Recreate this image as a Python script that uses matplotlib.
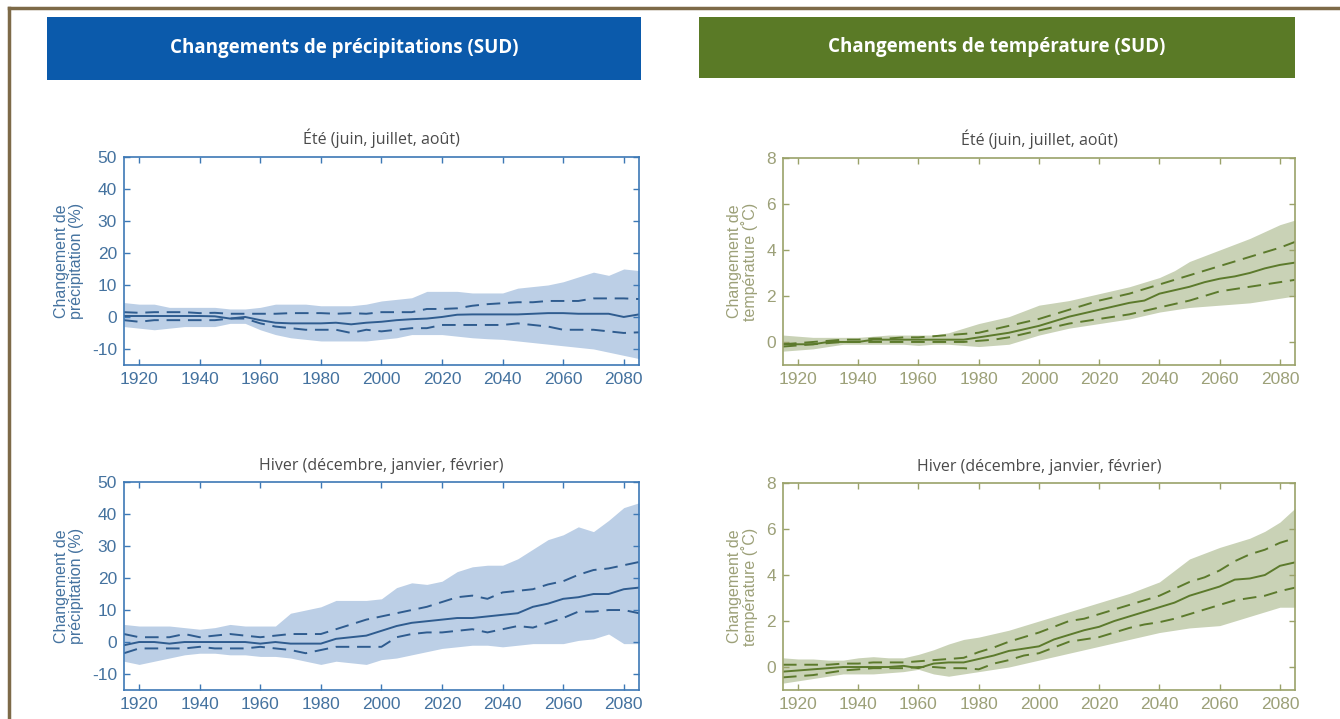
import numpy as np
import matplotlib
matplotlib.use("Agg")
import matplotlib.pyplot as plt
from matplotlib.lines import Line2D

plt.rcParams["axes.unicode_minus"] = False

# Annees (pas de 5 ans)
annees = list(range(1915, 2090, 5))

# Precipitations ete (%)
pe_mil = [0.3, 0.3, 0.3, 0.3, 0.3, 0.3, 0.2, -0.5, 0, -1, -1.8, -2, -2, -2, -1.8, -2.3, -1.8, -1.5, -1, -0.7, -0.5, 0,
          0.7, 0.8, 0.8, 0.8, 0.8, 1, 1.2, 1.2, 1, 1, 1, 0, 0.8]
pe_haut = [1.5, 1.3, 1.5, 1.5, 1.5, 1.2, 1.3, 1, 1, 1, 1, 1.2, 1.2, 1.2, 1, 1.2, 1, 1.5, 1.5, 1.5, 2.5, 2.5,
           2.7, 3.5, 4, 4.3, 4.6, 4.6, 5, 5, 5, 5.8, 5.8, 5.8, 5.6]
pe_bas = [-1, -1.5, -1, -1, -1, -1, -1, -0.5, -0.5, -2, -3, -3.5, -4, -4, -4, -5, -4, -4.5, -4, -3.5, -3.5, -2.5,
          -2.5, -2.5, -2.5, -2.5, -2, -2.5, -3, -4, -4, -4, -4.5, -5, -4.8]
pe_max = [4.5, 4, 4, 3, 3, 3, 3, 2.5, 2.5, 3, 4, 4, 4, 3.5, 3.5, 3.5, 4, 5, 5.5, 6, 8, 8, 8,
          7.5, 7.5, 7.5, 9, 9.5, 10, 11, 12.5, 14, 13, 15, 14.5]
pe_min = [-3, -3.5, -4, -3.5, -3, -3, -3, -2, -2, -4, -5.5, -6.5, -7, -7.5, -7.5, -7.5, -7.5, -7, -6.5, -5.5,
          -5.5, -5.5, -6, -6.5, -6.8, -7, -7.5, -8, -8.5, -9, -9.5, -10, -11, -12, -13]

# Precipitations hiver (%)
ph_mil = [-1, 0, 0, -0.5, 0, 0, 0, 0, 0, -0.5, 0, -0.5, -0.5, -0.5, 1, 1.5, 2, 3.5, 5, 6, 6.5, 7, 7.5, 7.5,
          8, 8.5, 9, 11, 12, 13.5, 14, 15, 15, 16.5, 17]
ph_haut = [2.5, 1.5, 1.5, 1.5, 2.5, 1.5, 2, 2.5, 2, 1.5, 2, 2.5, 2.5, 2.5, 4, 5.5, 7, 8, 9, 10, 11, 12.5,
           14, 14.5, 13.5, 15.5, 16, 16.5, 18, 19, 21, 22.5, 23, 24, 25]
ph_bas = [-3.5, -2, -2, -2, -2, -1.5, -2, -2, -2, -1.5, -2, -2.5, -3.5, -2.5, -1.5, -1.5, -1.5, -1.5, 1.5,
          2.5, 3, 3, 3.5, 4, 3, 4, 5, 4.5, 6, 7.5, 9.5, 9.5, 10, 10, 9]
ph_max = [5.5, 5, 5, 5, 4.5, 4, 4.5, 5.5, 5, 5, 5, 9, 10, 11, 13, 13, 13, 13.5, 17, 18.5, 18, 19, 22,
          23.5, 24, 24, 26, 29, 32, 33.5, 36, 34.5, 38, 42, 43.5]
ph_min = [-6, -7, -6, -5, -4, -3.5, -3.5, -4, -4, -4.5, -4.5, -5, -6, -7, -6, -6.5, -7, -5.5, -5, -4, -3,
          -2, -1.5, -1, -1, -1.5, -1, -0.5, -0.5, -0.5, 0.5, 1, 2.5, -0.5, -0.5]

# Temperature ete (C)
te_mil = [-0.1, -0.1, -0.1, 0, 0, 0, 0.1, 0.1, 0.1, 0.1, 0.1, 0.1, 0.1, 0.2, 0.3, 0.4, 0.55, 0.7, 0.9,
          1.1, 1.25, 1.4, 1.55, 1.7, 1.8, 2.1, 2.25, 2.4, 2.6, 2.75, 2.85, 3.0, 3.2, 3.35, 3.45]
te_haut = [-0.1, -0.05, 0, 0.05, 0.1, 0.1, 0.15, 0.15, 0.2, 0.2, 0.25, 0.3, 0.35, 0.4, 0.55, 0.7, 0.85,
           1.0, 1.2, 1.4, 1.6, 1.8, 1.95, 2.1, 2.3, 2.5, 2.7, 2.9, 3.1, 3.3, 3.5, 3.7, 3.9, 4.1, 4.35]
te_bas = [-0.2, -0.15, -0.1, -0.05, 0, 0, 0, 0, 0, 0, 0, 0, 0, 0.05, 0.1, 0.2, 0.35, 0.5, 0.65, 0.8, 0.9,
          1.0, 1.1, 1.2, 1.35, 1.5, 1.65, 1.8, 2.0, 2.2, 2.3, 2.4, 2.5, 2.6, 2.7]
te_max = [0.3, 0.25, 0.2, 0.2, 0.2, 0.2, 0.25, 0.3, 0.3, 0.3, 0.3, 0.4, 0.6, 0.8, 0.95, 1.1, 1.35, 1.6,
          1.7, 1.8, 1.95, 2.1, 2.25, 2.4, 2.6, 2.8, 3.1, 3.5, 3.75, 4.0, 4.25, 4.5, 4.8, 5.1, 5.3]
te_min = [-0.4, -0.35, -0.3, -0.2, -0.1, -0.1, -0.1, -0.1, -0.1, -0.15, -0.1, -0.1, -0.15, -0.2, -0.15,
          -0.1, 0.1, 0.3, 0.45, 0.6, 0.7, 0.8, 0.9, 1.0, 1.15, 1.3, 1.4, 1.5, 1.55, 1.6, 1.65, 1.7, 1.8, 1.9, 2.0]

# Temperature hiver (C)
th_mil = [-0.2, -0.15, -0.1, -0.05, 0, 0, 0, 0, 0.05, -0.05, 0.15, 0.2, 0.2, 0.35, 0.5, 0.7, 0.8, 0.9,
          1.2, 1.4, 1.6, 1.75, 2.0, 2.2, 2.4, 2.6, 2.8, 3.1, 3.3, 3.5, 3.8, 3.85, 4.0, 4.4, 4.55]
th_haut = [0.1, 0.1, 0.1, 0.1, 0.15, 0.15, 0.2, 0.2, 0.2, 0.25, 0.3, 0.35, 0.4, 0.65, 0.85, 1.1, 1.3, 1.5,
           1.75, 2.0, 2.1, 2.3, 2.5, 2.7, 2.9, 3.1, 3.4, 3.7, 3.9, 4.2, 4.6, 4.9, 5.1, 5.4, 5.6]
th_bas = [-0.45, -0.4, -0.35, -0.25, -0.15, -0.1, -0.05, -0.05, -0.05, 0, 0, -0.05, -0.05, -0.1, 0.15,
          0.3, 0.5, 0.6, 0.85, 1.1, 1.2, 1.3, 1.5, 1.7, 1.85, 1.95, 2.1, 2.3, 2.5, 2.7, 2.9, 3.0, 3.1, 3.3, 3.45]
th_max = [0.4, 0.35, 0.35, 0.3, 0.3, 0.4, 0.45, 0.4, 0.4, 0.55, 0.75, 1.0, 1.2, 1.3, 1.45, 1.6, 1.8, 2.0,
          2.2, 2.4, 2.6, 2.8, 3.0, 3.2, 3.45, 3.7, 4.2, 4.7, 4.95, 5.2, 5.4, 5.6, 5.9, 6.3, 6.9]
th_min = [-0.7, -0.6, -0.5, -0.4, -0.3, -0.3, -0.3, -0.25, -0.2, -0.1, -0.3, -0.4, -0.3, -0.2, -0.1, 0,
          0.15, 0.3, 0.45, 0.6, 0.75, 0.9, 1.05, 1.2, 1.35, 1.5, 1.6, 1.7, 1.75, 1.8, 2.0, 2.2, 2.4, 2.6, 2.6]

# Couleurs
bleu_titre = "#0b5aab"
vert_titre = "#5a7a26"
bleu_axe = "#3d78b5"
bleu_texte = "#44729f"
bleu_zone = "#bccfe6"
bleu_ligne = "#2f5c8f"
vert_axe = "#9aa26a"
vert_texte = "#9ca078"
vert_zone = "#c9d2b6"
vert_ligne = "#5c7a2c"

police = ["Liberation Sans", "DejaVu Sans"]
police_titre = ["Open Sans", "DejaVu Sans"]

fig = plt.figure(figsize=(13.4, 7.19), dpi=100)
fig.patch.set_facecolor("white")

# cadre (haut et gauche)
fig.add_artist(Line2D([0.0065, 1.0], [0.989, 0.989], color="#7d6a48", lw=2.5, transform=fig.transFigure))
fig.add_artist(Line2D([0.0065, 0.0065], [0.0, 0.989], color="#7d6a48", lw=2.5, transform=fig.transFigure))

# bandeaux de titre
for gauche, largeur, haut, couleur, texte in [
        (0.0351, 0.4433, 0.0876, bleu_titre, "Changements de précipitations (SUD)"),
        (0.5216, 0.4448, 0.0848, vert_titre, "Changements de température (SUD)")]:
    bandeau = fig.add_axes([gauche, 1 - 0.0236 - haut, largeur, haut])
    bandeau.set_facecolor(couleur)
    bandeau.set_xticks([])
    bandeau.set_yticks([])
    for s in bandeau.spines.values():
        s.set_visible(False)
    bandeau.text(0.5, 0.5, texte, color="white", fontsize=13.5, fontweight="bold",
                 family=police_titre, ha="center", va="center", transform=bandeau.transAxes)


def graphique(position, mil, haut, bas, vmax, vmin, titre, ylim, yticks, ylabel,
              c_axe, c_texte, c_zone, c_ligne):
    ax = fig.add_axes(position)
    ax.fill_between(annees, vmin, vmax, color=c_zone, lw=0)
    ax.plot(annees, mil, color=c_ligne, lw=1.4)
    ax.plot(annees, haut, color=c_ligne, lw=1.4, dashes=(7, 4))
    ax.plot(annees, bas, color=c_ligne, lw=1.4, dashes=(7, 4))
    ax.set_xlim(1915, 2085)
    ax.set_ylim(*ylim)
    ax.set_xticks(range(1920, 2081, 20))
    ax.set_yticks(yticks)
    ax.tick_params(direction="in", top=True, right=True, length=4, width=1, color=c_axe,
                   labelcolor=c_texte, labelsize=12.5, pad=5)
    for lab in ax.get_xticklabels() + ax.get_yticklabels():
        lab.set_family(police)
    for s in ax.spines.values():
        s.set_color(c_axe)
        s.set_linewidth(1.2)
    ax.set_title(titre, fontsize=11.5, color="#4a4a4a", family=police_titre, pad=9)
    ax.set_ylabel(ylabel, fontsize=11.5, color=c_texte, family=police, labelpad=6, linespacing=0.95)
    return ax


ete = "Été (juin, juillet, août)"
hiver = "Hiver (décembre, janvier, février)"
lab_p = "Changement de\nprécipitation (%)"
lab_t = "Changement de\ntempérature (˚C)"

graphique([0.0925, 0.4924, 0.3843, 0.2893], pe_mil, pe_haut, pe_bas, pe_max, pe_min, ete,
          (-15, 50), range(-10, 51, 10), lab_p, bleu_axe, bleu_texte, bleu_zone, bleu_ligne)
graphique([0.0925, 0.0403, 0.3843, 0.2893], ph_mil, ph_haut, ph_bas, ph_max, ph_min, hiver,
          (-15, 50), range(-10, 51, 10), lab_p, bleu_axe, bleu_texte, bleu_zone, bleu_ligne)
graphique([0.5843, 0.4924, 0.3821, 0.2879], te_mil, te_haut, te_bas, te_max, te_min, ete,
          (-1, 8), range(0, 9, 2), lab_t, vert_axe, vert_texte, vert_zone, vert_ligne)
graphique([0.5843, 0.0403, 0.3821, 0.2879], th_mil, th_haut, th_bas, th_max, th_min, hiver,
          (-1, 8), range(0, 9, 2), lab_t, vert_axe, vert_texte, vert_zone, vert_ligne)

fig.savefig("out.png", dpi=100, facecolor="white")
